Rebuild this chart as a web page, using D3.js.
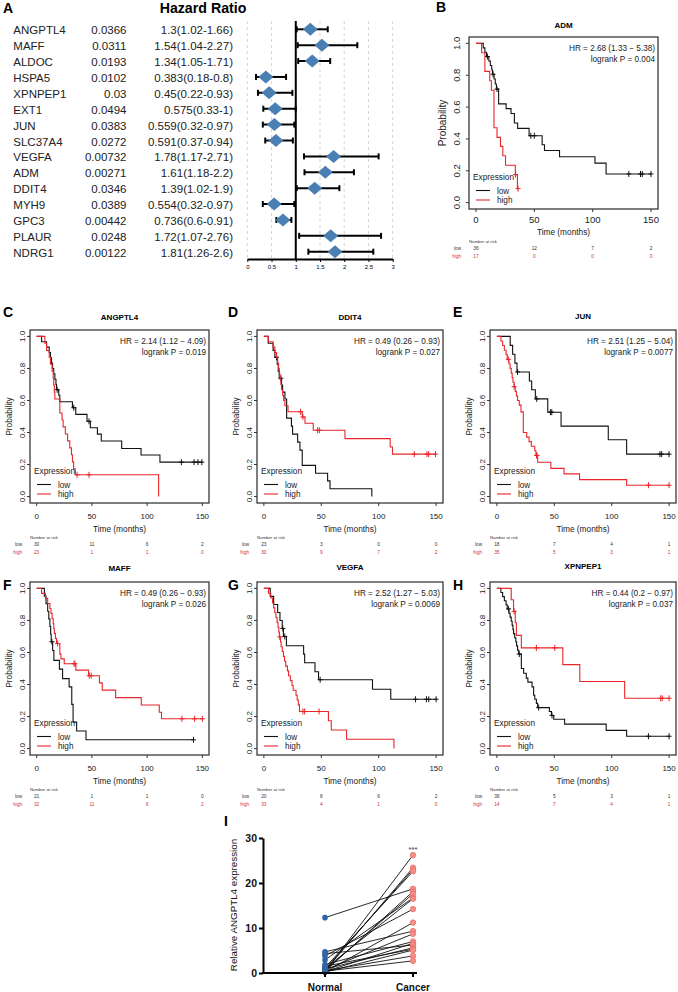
<!DOCTYPE html>
<html><head><meta charset="utf-8">
<script src="https://cdn.jsdelivr.net/npm/d3@7"></script>
<style>body{margin:0;background:#fff}svg{display:block}text{font-family:"Liberation Sans",Arial,Helvetica,sans-serif}</style>
</head><body><svg id="c" width="678" height="992"></svg>
<script>
// ---------- Panel A data ----------
const fGenes = ["ANGPTL4","MAFF","ALDOC","HSPA5","XPNPEP1","EXT1","JUN","SLC37A4","VEGFA","ADM","DDIT4","MYH9","GPC3","PLAUR","NDRG1"];
const fPvals = ["0.0366","0.0311","0.0193","0.0102","0.03","0.0494","0.0383","0.0272","0.00732","0.00271","0.0346","0.0389","0.00442","0.0248","0.00122"];
const fHR = [1.3,1.54,1.34,0.383,0.45,0.575,0.559,0.591,1.78,1.61,1.39,0.554,0.736,1.72,1.81];
const fLo = [1.02,1.04,1.05,0.18,0.22,0.33,0.32,0.37,1.17,1.18,1.02,0.32,0.6,1.07,1.26];
const fHi = [1.66,2.27,1.71,0.8,0.93,1,0.97,0.94,2.71,2.2,1.9,0.97,0.91,2.76,2.6];
const fTicks = [0,0.5,1,1.5,2,2.5,3];

// ---------- KM data: [time(months), survival] step points ----------
const B_low = [[0,1],[6.2,.972],[7.6,.944],[9,.917],[11,.889],[12.3,.861],[13.5,.833],[14.2,.806],[15.5,.776],[16.5,.745],[17.5,.713],[19.4,.62],[25.8,.59],[30,.56],[32.9,.50],[35.7,.466],[45.5,.42],[56.7,.363],[58.7,.327],[71.6,.288],[102,.248],[111.5,.18]];
const B_lowEnd = 150, B_lowCens = [9.8,14.6,18,47,50,131,141,142.5,150];
const B_high = [[0,1],[4.8,.941],[7.6,.824],[11.8,.765],[13.2,.706],[15.4,.47],[18,.41],[21,.353],[23,.294],[25.3,.235],[33.7,.176],[35.5,.088]];
const B_highEnd = 36, B_highCens = [33.9,36];

const C_low = [[0,1],[4.5,.967],[9,.933],[11.4,.9],[12.5,.867],[13.5,.833],[14.4,.8],[15.5,.767],[16.5,.733],[17.5,.7],[18,.667],[20,.633],[21,.592],[32.4,.555],[35.4,.513],[45.6,.47],[48.6,.43],[55,.39],[58.5,.347],[77,.30],[94.5,.26],[111.6,.215]];
const C_lowEnd = 150, C_lowCens = [18.6,33.6,47.4,131,142.5,146,149.5];
const C_high = [[0,1],[7.5,.957],[9,.913],[11.4,.87],[12.5,.826],[14,.783],[15,.739],[15.5,.696],[16,.652],[16.5,.609],[21,.522],[23,.478],[24,.435],[26,.391],[28,.348],[30,.304],[31.5,.261],[32.4,.217],[33.5,.174],[35,.136],[110.4,0]];
const C_highEnd = 110.4, C_highCens = [36.6,47.4];

const D_low = [[0,1],[3.8,.957],[8,.913],[9.6,.87],[11.6,.826],[12.5,.783],[13.4,.739],[15.4,.696],[16.3,.652],[18.3,.609],[19.8,.49],[24,.44],[25,.39],[29.4,.34],[31.4,.29],[33.4,.195],[45,.146],[55.5,.098],[57.6,.049],[94,0]];
const D_lowEnd = 94, D_lowCens = [11,14.8];
const D_high = [[0,1],[3.8,.967],[8,.933],[9.5,.9],[11,.867],[12,.833],[12.8,.8],[13.4,.767],[14,.733],[14.8,.7],[15.4,.667],[16.3,.633],[17.2,.6],[18.3,.567],[21,.53],[33.4,.497],[35.8,.458],[43,.414],[70.6,.362],[110,.31],[112,.265]];
const D_highEnd = 150, D_highCens = [32,34,46.8,48.3,131,142,143.5,149.5];

const E_low = [[0,1],[11.6,.944],[13.7,.889],[15.7,.833],[17.5,.778],[28.3,.722],[30.3,.667],[33.5,.61],[44.3,.527],[55.9,.44],[97,.355],[113,.265]];
const E_lowEnd = 150, E_lowCens = [18,34.7,46.6,47.8,142,143.5,150];
const E_high = [[0,1],[3.5,.971],[5,.943],[6.5,.914],[8,.886],[9,.857],[10.5,.829],[11.5,.80],[12.5,.771],[13.3,.743],[14,.714],[15,.686],[16,.657],[17,.629],[18,.60],[19.5,.571],[21,.529],[23,.40],[26,.371],[28,.343],[30,.314],[33,.286],[34,.257],[35.5,.214],[47,.176],[58.5,.142],[72,.106],[113,.071]];
const E_highEnd = 150, E_highCens = [10,15,34.5,35,132,150];

const F_low = [[0,1],[7,.952],[8.5,.905],[10,.857],[11,.81],[12,.762],[12.7,.714],[13.2,.667],[14.5,.612],[15.6,.551],[20.6,.496],[23.5,.437],[29.4,.385],[31.8,.276],[33,.165],[36.2,.11],[44.7,.055]];
const F_lowEnd = 142, F_lowCens = [13.8,142];
const F_high = [[0,1],[4.5,.969],[8,.938],[10,.906],[12,.875],[13,.844],[14,.812],[15,.781],[15.5,.75],[16,.719],[17,.688],[18,.656],[21,.59],[22,.56],[25,.53],[35.5,.49],[47,.455],[56.8,.41],[59.4,.365],[71.5,.318],[94.7,.272],[111,.227],[113,.186]];
const F_highEnd = 150, F_highCens = [19,33.8,34.7,47.6,49.4,131.5,143,150];

const G_low = [[0,1],[5.5,.95],[8.5,.90],[12,.85],[14,.80],[16,.75],[17,.70],[19.6,.642],[34.6,.59],[35.5,.536],[44.5,.48],[47.6,.43],[94.6,.37],[110.5,.308]];
const G_lowEnd = 150, G_lowCens = [16.5,18.2,49,132,141.6,143.6,150];
const G_high = [[0,1],[4,.97],[6,.94],[7.5,.909],[8.5,.879],[9.5,.848],[10.5,.818],[11.5,.788],[12.3,.758],[13,.727],[13.5,.697],[14.5,.667],[15,.636],[16,.606],[17,.576],[18,.545],[19,.515],[20.5,.485],[21.5,.455],[23,.424],[24.5,.394],[25.5,.364],[28,.333],[29,.303],[30,.273],[31,.232],[56.2,.174],[58.7,.116],[72,.058],[113.3,0]];
const G_highEnd = 113.3, G_highCens = [13.8,34,35.5,48];

const H_low = [[0,1],[3.5,.974],[5,.949],[6.5,.923],[8,.897],[9,.872],[10.5,.846],[11.5,.821],[12.5,.795],[13.3,.769],[14,.744],[14.5,.718],[15.5,.692],[16.5,.667],[17.2,.641],[18,.615],[19,.59],[21.3,.50],[23.3,.47],[25.6,.44],[27,.415],[30.6,.385],[32,.333],[33,.308],[34.4,.282],[35.5,.256],[45.7,.232],[47.5,.207],[49.5,.183],[59,.153],[95.2,.114],[113,.077]];
const H_lowEnd = 150, H_lowCens = [10.2,19.5,36.4,48,132,150];
const H_high = [[0,1],[12.5,.929],[14.5,.857],[16,.786],[17,.707],[21.3,.629],[57.4,.524],[72.2,.419],[111.3,.314]];
const H_highEnd = 150, H_highCens = [15,34.4,50.4,142.7,144,150];

const kmXTicks = [0,50,100,150];
const kmYTicks = [0,0.2,0.4,0.6,0.8,1.0];
const riskTimes = [0,50,100,150];

// ---------- Panel I data ----------
const iCats = ["Normal","Cancer"];
const iNormal = [0.3,0.5,0.8,1.2,12.3,0.4,0.6,2.9,1.0,3.8,0.2,4.7,0.7,1.9,0.3,4.3,0.9,1.5,0.2,0.5,0.4];
const iCancer = [26.2,23.4,23.0,22.6,18.7,18.1,17.6,16.7,16.5,14.2,11.2,9.3,8.7,7.0,6.6,6.2,5.6,5.3,5.1,3.8,2.7];
const iTicks = [0,10,20,30];

// ================= drawing =================
const svg = d3.select("#c");
const RED = "#e8262b";

function letter(t, x, y){ svg.append("text").attr("x",x).attr("y",y).attr("font-size",14).attr("font-weight","bold").text(t); }

// ---------- Panel A ----------
(function(){
  const g = svg.append("g");
  const x = d3.scaleLinear().domain([0,3]).range([247.3,392.7]);
  const y = d3.scalePoint().domain(fGenes).range([29.3,251.7]);
  const top = 21, axY = 259;
  letter("A",3,13);
  g.append("text").attr("x",203).attr("y",13).attr("text-anchor","middle").attr("font-size",14.2).attr("font-weight","bold").text("Hazard Ratio");
  fTicks.filter(v=>v!==1).forEach(v=>{
    g.append("line").attr("x1",x(v)).attr("x2",x(v)).attr("y1",top).attr("y2",axY).attr("stroke","#c8c8c8").attr("stroke-width",0.8).attr("stroke-dasharray","3,3");
  });
  g.append("line").attr("x1",x(1)).attr("x2",x(1)).attr("y1",top).attr("y2",axY).attr("stroke","#000").attr("stroke-width",2);
  const ax = g.append("g").attr("transform",`translate(0,${axY})`).call(d3.axisBottom(x).tickValues(fTicks).tickSize(3).tickSizeOuter(0).tickFormat(d=>String(d)));
  ax.select(".domain").attr("stroke-width",1.8);
  ax.selectAll(".tick line").attr("stroke-width",1);
  ax.selectAll(".tick text").attr("font-size",6).attr("font-family","Liberation Sans, Arial, sans-serif").attr("dy","0.6em");
  fGenes.forEach((gn,i)=>{
    const cy = y(gn), ty = cy+5;
    g.append("text").attr("x",13.3).attr("y",ty).attr("font-size",11.5).attr("fill","#222").text(gn);
    g.append("text").attr("x",126.5).attr("y",ty).attr("font-size",11.5).attr("text-anchor","end").attr("fill","#222").text(fPvals[i]);
    g.append("text").attr("x",233).attr("y",ty).attr("font-size",11.5).attr("text-anchor","end").attr("fill","#222").text(`${fHR[i]}(${fLo[i]}-${fHi[i]})`);
    g.append("line").attr("x1",x(fLo[i])).attr("x2",x(fHi[i])).attr("y1",cy).attr("y2",cy).attr("stroke","#000").attr("stroke-width",2);
    [fLo[i],fHi[i]].forEach(v=>g.append("line").attr("x1",x(v)).attr("x2",x(v)).attr("y1",cy-3).attr("y2",cy+3).attr("stroke","#000").attr("stroke-width",2));
    const cx = x(fHR[i]);
    g.append("path").attr("d",`M${cx},${cy-6.5}L${cx+7.5},${cy}L${cx},${cy+6.5}L${cx-7.5},${cy}Z`).attr("fill","#4a7fb3");
  });
})();

// ---------- KM panels ----------
function km(c){
  const g = svg.append("g");
  const [l,t,r,b] = c.box;
  const x = d3.scaleLinear().domain([-6,156]).range([l,r]);
  const y = d3.scaleLinear().domain([-0.04,1.04]).range([b,t]);
  const fsT = c.fsTick;
  letter(c.letter, c.lx, c.ly);
  g.append("text").attr("x",(l+r)/2).attr("y",c.titleY).attr("text-anchor","middle").attr("font-size",8).attr("font-weight","bold").text(c.title);
  // curves
  const line = d3.line().x(d=>x(d[0])).y(d=>y(d[1])).curve(d3.curveStepAfter);
  function curve(pts,end,cens,col){
    const all = pts.concat([[end, pts[pts.length-1][1]]]);
    g.append("path").attr("d",line(all)).attr("fill","none").attr("stroke",col).attr("stroke-width",1.1);
    cens.forEach(tc=>{
      let s = 1; pts.forEach(p=>{ if(p[0]<=tc) s=p[1]; });
      const cx=x(tc), cy=y(s);
      g.append("line").attr("x1",cx).attr("x2",cx).attr("y1",cy-3).attr("y2",cy+3).attr("stroke",col).attr("stroke-width",1);
      g.append("line").attr("x1",cx-2.5).attr("x2",cx+2.5).attr("y1",cy).attr("y2",cy).attr("stroke",col).attr("stroke-width",1);
    });
  }
  curve(c.low,c.lowEnd,c.lowCens,"#111");
  curve(c.high,c.highEnd,c.highCens,RED);
  // box
  g.append("rect").attr("x",l).attr("y",t).attr("width",r-l).attr("height",b-t).attr("fill","none").attr("stroke","#3a3a3a").attr("stroke-width",1.3);
  // y axis
  kmYTicks.forEach(v=>{
    g.append("line").attr("x1",l-3).attr("x2",l).attr("y1",y(v)).attr("y2",y(v)).attr("stroke","#333");
    const cx = l - c.yLabOff;
    g.append("text").attr("transform",`translate(${cx+fsT*0.36},${y(v)}) rotate(-90)`).attr("text-anchor","middle").attr("font-size",fsT).attr("fill","#222").text(v.toFixed(1));
  });
  g.append("text").attr("transform",`translate(${l-c.probOff+c.fsProb*0.36},${(t+b)/2}) rotate(-90)`).attr("text-anchor","middle").attr("font-size",c.fsProb).attr("fill","#222").text("Probability");
  // x axis
  kmXTicks.forEach(v=>{
    g.append("line").attr("x1",x(v)).attr("x2",x(v)).attr("y1",b).attr("y2",b+3).attr("stroke","#333");
    g.append("text").attr("x",x(v)).attr("y",b+c.xLabDy).attr("text-anchor","middle").attr("font-size",fsT).attr("fill","#222").text(v);
  });
  g.append("text").attr("x",(l+r)/2).attr("y",b+c.timeDy).attr("text-anchor","middle").attr("font-size",8.3).attr("fill","#222").text("Time (months)");
  // HR text
  g.append("text").attr("x",r-3).attr("y",t+14).attr("text-anchor","end").attr("font-size",8.2).attr("fill","#222").text(c.hr);
  g.append("text").attr("x",r-3).attr("y",t+25).attr("text-anchor","end").attr("font-size",8.2).attr("fill","#222").text(c.p);
  // legend
  g.append("text").attr("x",l+4).attr("y",b-29).attr("font-size",8.3).attr("fill","#222").text("Expression");
  [["low","#111",b-18.5],["high",RED,b-9]].forEach(([lab,col,yy])=>{
    g.append("line").attr("x1",l+7).attr("x2",l+21).attr("y1",yy).attr("y2",yy).attr("stroke",col).attr("stroke-width",1.1);
    g.append("text").attr("x",l+28).attr("y",yy+3).attr("font-size",8.2).attr("fill","#222").text(lab);
  });
  // number at risk
  g.append("text").attr("x",l).attr("y",b+c.riskDy).attr("font-size",4.3).attr("fill","#333").text("Number at risk");
  [["low",c.riskLow,"#333",b+c.riskDy+7.5],["high",c.riskHigh,"#d0303a",b+c.riskDy+15]].forEach(([lab,vals,col,yy])=>{
    g.append("text").attr("x",l-8).attr("y",yy).attr("text-anchor","end").attr("font-size",4.6).attr("fill",col).text(lab);
    vals.forEach((v,i)=>g.append("text").attr("x",x(riskTimes[i])).attr("y",yy).attr("text-anchor","middle").attr("font-size",4.8).attr("fill",col).text(v));
  });
}

const colC=[30,209], colD=[257,443], colE=[490,676], colB=[469,658];
const row2=[330,503], row3=[582,755];
const common = {fsTick:8, yLabOff:7.5, probOff:21, fsProb:8.2, xLabDy:15.5, timeDy:29, riskDy:35.5};

km(Object.assign({},common,{letter:"B",lx:436,ly:12,title:"ADM",titleY:28,box:[colB[0],37,colB[1],209],fsTick:9.5,yLabOff:12,probOff:27,fsProb:10,xLabDy:13.5,timeDy:26,riskDy:33.5,
  low:B_low,lowEnd:B_lowEnd,lowCens:B_lowCens,high:B_high,highEnd:B_highEnd,highCens:B_highCens,
  hr:"HR = 2.68 (1.33 \u2212 5.38)",p:"logrank P = 0.004",riskLow:[36,12,7,2],riskHigh:[17,0,0,0]}));
km(Object.assign({},common,{letter:"C",lx:3,ly:317,title:"ANGPTL4",titleY:320,box:[colC[0],row2[0],colC[1],row2[1]],
  low:C_low,lowEnd:C_lowEnd,lowCens:C_lowCens,high:C_high,highEnd:C_highEnd,highCens:C_highCens,
  hr:"HR = 2.14 (1.12 \u2212 4.09)",p:"logrank P = 0.019",riskLow:[30,11,6,2],riskHigh:[23,1,1,0]}));
km(Object.assign({},common,{letter:"D",lx:228,ly:317,title:"DDIT4",titleY:320,box:[colD[0],row2[0],colD[1],row2[1]],
  low:D_low,lowEnd:D_lowEnd,lowCens:D_lowCens,high:D_high,highEnd:D_highEnd,highCens:D_highCens,
  hr:"HR = 0.49 (0.26 \u2212 0.93)",p:"logrank P = 0.027",riskLow:[23,3,0,0],riskHigh:[30,9,7,2]}));
km(Object.assign({},common,{letter:"E",lx:453,ly:317,title:"JUN",titleY:319,box:[colE[0],row2[0],colE[1],row2[1]],
  low:E_low,lowEnd:E_lowEnd,lowCens:E_lowCens,high:E_high,highEnd:E_highEnd,highCens:E_highCens,
  hr:"HR = 2.51 (1.25 \u2212 5.04)",p:"logrank P = 0.0077",riskLow:[18,7,4,1],riskHigh:[35,5,3,1]}));
km(Object.assign({},common,{letter:"F",lx:3,ly:590,title:"MAFF",titleY:571,box:[colC[0],row3[0],colC[1],row3[1]],
  low:F_low,lowEnd:F_lowEnd,lowCens:F_lowCens,high:F_high,highEnd:F_highEnd,highCens:F_highCens,
  hr:"HR = 0.49 (0.26 \u2212 0.93)",p:"logrank P = 0.026",riskLow:[21,1,1,0],riskHigh:[32,11,6,2]}));
km(Object.assign({},common,{letter:"G",lx:228,ly:590,title:"VEGFA",titleY:570,box:[colD[0],row3[0],colD[1],row3[1]],
  low:G_low,lowEnd:G_lowEnd,lowCens:G_lowCens,high:G_high,highEnd:G_highEnd,highCens:G_highCens,
  hr:"HR = 2.52 (1.27 \u2212 5.03)",p:"logrank P = 0.0069",riskLow:[20,8,6,2],riskHigh:[33,4,1,0]}));
km(Object.assign({},common,{letter:"H",lx:453,ly:590,title:"XPNPEP1",titleY:569,box:[colE[0],row3[0],colE[1],row3[1]],
  low:H_low,lowEnd:H_lowEnd,lowCens:H_lowCens,high:H_high,highEnd:H_highEnd,highCens:H_highCens,
  hr:"HR = 0.44 (0.2 \u2212 0.97)",p:"logrank P = 0.037",riskLow:[39,5,3,1],riskHigh:[14,7,4,1]}));

// ---------- Panel I ----------
(function(){
  const g = svg.append("g");
  const y = d3.scaleLinear().domain([0,30]).range([973,838]);
  const x = d3.scalePoint().domain(iCats).range([325,413]);
  const axX = 263;
  letter("I",224,826);
  iNormal.forEach((v,i)=>{
    g.append("line").attr("x1",x("Normal")).attr("y1",y(v)).attr("x2",x("Cancer")).attr("y2",y(iCancer[i])).attr("stroke","#111").attr("stroke-width",0.9);
  });
  iNormal.forEach(v=>g.append("circle").attr("cx",x("Normal")).attr("cy",y(v)).attr("r",2.8).attr("fill","#2f64a6"));
  iCancer.forEach(v=>g.append("circle").attr("cx",x("Cancer")).attr("cy",y(v)).attr("r",2.8).attr("fill","#f3908a").attr("stroke","#e4675f").attr("stroke-width",0.6));
  const ay = g.append("g").attr("transform",`translate(${axX},0)`).call(d3.axisLeft(y).tickValues(iTicks).tickSize(4).tickSizeOuter(0));
  ay.select(".domain").attr("stroke-width",2);
  ay.selectAll(".tick line").attr("stroke-width",2);
  ay.selectAll(".tick text").attr("font-size",10.5).attr("font-weight","bold").attr("font-family","Liberation Sans, Arial, sans-serif").attr("fill","#111").attr("x",-6);
  g.append("line").attr("x1",axX-1).attr("x2",417).attr("y1",973).attr("y2",973).attr("stroke","#000").attr("stroke-width",2);
  iCats.forEach(cat=>{
    g.append("line").attr("x1",x(cat)).attr("x2",x(cat)).attr("y1",973).attr("y2",977).attr("stroke","#000").attr("stroke-width",2);
    g.append("text").attr("x",x(cat)).attr("y",991).attr("text-anchor","middle").attr("font-size",10).attr("font-weight","bold").attr("fill","#111").text(cat);
  });
  g.append("text").attr("transform",`translate(${233+3.5},905) rotate(-90)`).attr("text-anchor","middle").attr("font-size",9.8).attr("fill","#111").text("Relative ANGPTL4 expression");
  g.append("text").attr("x",x("Cancer")).attr("y",y(d3.max(iCancer))-3).attr("text-anchor","middle").attr("font-size",7.5).attr("fill","#333").text("***");
})();
</script></body></html>
